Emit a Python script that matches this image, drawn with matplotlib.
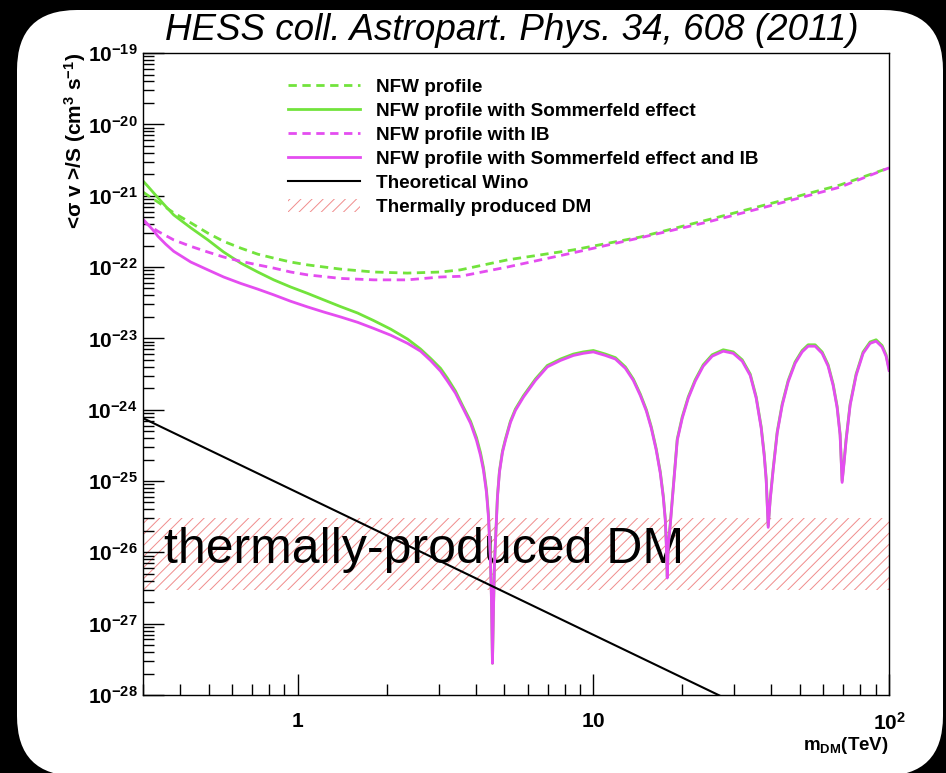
import numpy as np
import matplotlib.pyplot as plt
from matplotlib.patches import FancyBboxPatch
from matplotlib.transforms import IdentityTransform
from matplotlib.ticker import LogLocator, NullFormatter

plt.rcParams['font.family'] = ['Liberation Sans', 'DejaVu Sans']
plt.rcParams['mathtext.fontset'] = 'custom'
plt.rcParams['mathtext.rm'] = 'Liberation Sans:bold'
plt.rcParams['mathtext.it'] = 'Liberation Sans:italic:bold'
plt.rcParams['mathtext.bf'] = 'Liberation Sans:bold'
plt.rcParams['mathtext.default'] = 'rm'
plt.rcParams['hatch.linewidth'] = 0.7

# dark matter mass (TeV); values are log10(<sigma v>/S)
m_nfw = [0.30, 0.337, 0.381, 0.435, 0.497, 0.562, 0.642, 0.733, 0.830, 0.947, 1.08,
         1.40, 1.81, 2.35, 3.04, 3.55, 5.12, 8.56, 14.4, 24.3, 40.6, 68.3, 100]
log_nfw = [-20.95, -21.09, -21.24, -21.38, -21.525, -21.64, -21.735, -21.82, -21.875,
           -21.93, -21.97, -22.03, -22.07, -22.085, -22.07, -22.04, -21.90, -21.76,
           -21.58, -21.34, -21.10, -20.85, -20.61]
log_nfw_ib = [-21.36, -21.50, -21.62, -21.71, -21.79, -21.86, -21.92, -21.97, -22.015,
              -22.07, -22.11, -22.16, -22.18, -22.18, -22.14, -22.13, -22.00, -21.80,
              -21.59, -21.37, -21.13, -20.88, -20.61]

# Sommerfeld curves: part up to the first zero, then the resonance arches
m_somm_low = [0.300, 0.311, 0.337, 0.358, 0.381, 0.435, 0.497, 0.562, 0.642, 0.733,
              0.830, 0.947, 1.081, 1.224, 1.397, 1.595, 1.806, 2.062, 2.353, 2.604,
              2.814, 3.042, 3.212, 3.419, 3.610, 3.842, 4.025, 4.152, 4.250, 4.350,
              4.419, 4.487, 4.523, 4.558]
log_somm_low = [-20.795, -20.865, -21.03, -21.15, -21.27, -21.45, -21.62, -21.79, -21.945,
                -22.07, -22.18, -22.28, -22.37, -22.46, -22.555, -22.645, -22.75, -22.87,
                -23.01, -23.15, -23.28, -23.42, -23.56, -23.74, -23.94, -24.16, -24.39,
                -24.60, -24.81, -25.12, -25.47, -26.07, -26.64, -27.555]
m_somm_ib_low = [0.300, 0.311, 0.324, 0.337, 0.358, 0.381, 0.435, 0.497, 0.562, 0.642,
                 0.733, 0.830, 0.947, 1.081, 1.224, 1.397, 1.595, 1.806, 2.062, 2.353,
                 2.604, 2.814, 3.042, 3.212, 3.419, 3.610, 3.842, 4.025, 4.152, 4.250,
                 4.350, 4.419, 4.487, 4.523, 4.558]
log_somm_ib_low = [-21.33, -21.40, -21.48, -21.57, -21.68, -21.78, -21.93, -22.04, -22.14,
                   -22.23, -22.31, -22.39, -22.48, -22.56, -22.63, -22.70, -22.775, -22.86,
                   -22.955, -23.07, -23.18, -23.31, -23.46, -23.60, -23.77, -23.965, -24.19,
                   -24.43, -24.64, -24.85, -25.16, -25.51, -26.11, -26.67, -27.555]

m_res = [4.594, 4.630, 4.702, 4.739, 4.813, 4.927, 5.043, 5.243, 5.451, 5.800,
         6.37, 6.99, 7.74, 8.56, 9.25, 10.0, 10.98, 11.87, 12.83, 13.65,
         14.41, 15.11, 15.70, 16.32, 16.84, 17.24, 17.51, 17.65, 17.78, 17.92,
         18.20, 18.49, 19.22, 19.98, 20.94, 22.11, 23.53, 25.23, 27.49, 29.72,
         31.87, 33.92, 35.54, 36.95, 37.82, 38.42, 39.02, 39.63, 40.55, 41.85,
         43.51, 45.59, 48.13, 50.83, 53.26, 56.23, 59.38, 62.22, 64.69, 66.73,
         68.31, 69.39, 70.47, 71.58, 73.85, 77.38, 81.71, 86.29, 90.41, 94.70,
         97.70, 100]
log_somm_res = [-26.79, -26.16, -25.53, -25.21, -24.86, -24.58, -24.41, -24.16, -23.99, -23.805,
                -23.57, -23.38, -23.29, -23.22, -23.19, -23.17, -23.22, -23.27, -23.40, -23.57,
                -23.78, -24.00, -24.24, -24.55, -24.87, -25.21, -25.53, -25.88, -26.34, -25.88,
                -25.60, -25.25, -24.41, -24.10, -23.82, -23.58, -23.37, -23.23, -23.16, -23.19,
                -23.30, -23.50, -23.82, -24.24, -24.62, -24.97, -25.63, -25.25, -24.83, -24.31,
                -23.92, -23.59, -23.33, -23.17, -23.09, -23.09, -23.19, -23.37, -23.64, -23.95,
                -24.34, -25.00, -24.72, -24.41, -23.92, -23.50, -23.19, -23.05, -23.02, -23.10,
                -23.23, -23.43]
log_somm_ib_res = [-26.81, -26.18, -25.55, -25.23, -24.88, -24.60, -24.43, -24.18, -24.01, -23.825,
                   -23.59, -23.40, -23.31, -23.24, -23.21, -23.19, -23.24, -23.29, -23.42, -23.59,
                   -23.80, -24.02, -24.26, -24.57, -24.89, -25.23, -25.55, -25.90, -26.36, -25.90,
                   -25.62, -25.27, -24.43, -24.12, -23.84, -23.60, -23.39, -23.25, -23.18, -23.21,
                   -23.32, -23.52, -23.84, -24.26, -24.64, -24.99, -25.65, -25.27, -24.85, -24.33,
                   -23.94, -23.61, -23.35, -23.19, -23.11, -23.11, -23.21, -23.39, -23.66, -23.97,
                   -24.36, -25.02, -24.74, -24.43, -23.94, -23.52, -23.21, -23.07, -23.04, -23.12,
                   -23.25, -23.45]

m_wino = [0.30, 30.0]
sv_wino = [7.6e-25, 7.8e-29]

m_band = [0.30, 100]
band_lo = [3e-27, 3e-27]
band_hi = [3e-26, 3e-26]

y_exps = [-28, -27, -26, -25, -24, -23, -22, -21, -20, -19]
x_ticks = [1, 10, 100]
x_labels = ['$1$', '$10$', '$10^{2}$']

green = '#72e33c'
magenta = '#e44df0'

fig = plt.figure(figsize=(9.46, 7.73), dpi=100, facecolor='black')
fig.add_artist(FancyBboxPatch((17, -3), 926, 766, boxstyle='round,pad=0,rounding_size=60',
                              transform=IdentityTransform(), facecolor='white',
                              edgecolor='none', zorder=0))

ax = fig.add_axes([0.1512, 0.1009, 0.7886, 0.8305])
ax.set_xscale('log')
ax.set_yscale('log')

h1, = ax.plot(m_nfw, 10.0 ** np.array(log_nfw), color=green, lw=2.0,
              ls=(0, (3, 2)), label='NFW profile')
h2, = ax.plot(m_somm_low + m_res, 10.0 ** np.array(log_somm_low + log_somm_res),
              color=green, lw=2.0, label='NFW profile with Sommerfeld effect')
h3, = ax.plot(m_nfw, 10.0 ** np.array(log_nfw_ib), color=magenta, lw=2.0,
              ls=(0, (3, 2)), label='NFW profile with IB')
h4, = ax.plot(m_somm_ib_low + m_res, 10.0 ** np.array(log_somm_ib_low + log_somm_ib_res),
              color=magenta, lw=2.0, label='NFW profile with Sommerfeld effect and IB')
h5, = ax.plot(m_wino, sv_wino, color='black', lw=1.5, label='Theoretical Wino')
h6 = ax.fill_between(m_band, band_lo, band_hi, facecolor='none', edgecolor='#f08c8c',
                     hatch='///', linewidth=0, zorder=1, label='Thermally produced DM')

ax.text(0.352, 7.1e-27, 'thermally-produced DM', fontsize=36, va='baseline',
        ha='left', zorder=1.5)

ax.set_xlim(0.3, 100)
ax.set_ylim(1e-28, 1e-19)

ax.set_xticks(x_ticks, x_labels)
ax.xaxis.set_minor_locator(LogLocator(base=10, subs=np.arange(2, 10), numticks=100))
ax.xaxis.set_minor_formatter(NullFormatter())
ax.set_yticks([10.0 ** e for e in y_exps], ['$10^{%d}$' % e for e in y_exps])
ax.yaxis.set_minor_locator(LogLocator(base=10, subs=np.arange(2, 10), numticks=100))
ax.yaxis.set_minor_formatter(NullFormatter())
ax.tick_params(which='both', direction='in', top=False, right=False, width=1)
ax.tick_params(which='major', length=15)
ax.tick_params(which='minor', length=8)
ax.tick_params(axis='y', labelsize=15, pad=4)
ax.tick_params(axis='x', labelsize=15, pad=12)
for s in ax.spines.values():
    s.set_linewidth(1.0)

ax.set_ylabel('<σ v >/S (cm$^{3}$ s$^{-1}$)', fontsize=15, fontweight='bold', loc='top')
ax.yaxis.set_label_coords(-0.074, 1.0)
ax.set_xlabel('m$_{DM}$(TeV)', fontsize=13.5, fontweight='bold', loc='right')
ax.xaxis.set_label_coords(1.0, -0.062)

ax.legend(handles=[h1, h2, h3, h4, h5, h6], loc='upper left', bbox_to_anchor=(0.1944, 0.96),
          frameon=False, prop={'weight': 'bold', 'size': 13.6}, handlelength=3.8,
          handletextpad=0.85, labelspacing=0.36, borderpad=0, borderaxespad=0)

fig.text(0.541, 0.961, 'HESS coll. Astropart. Phys. 34, 608 (2011)', ha='center',
         va='center', fontsize=26.5, style='italic')

fig.savefig('out.png', dpi=100, facecolor=fig.get_facecolor())
